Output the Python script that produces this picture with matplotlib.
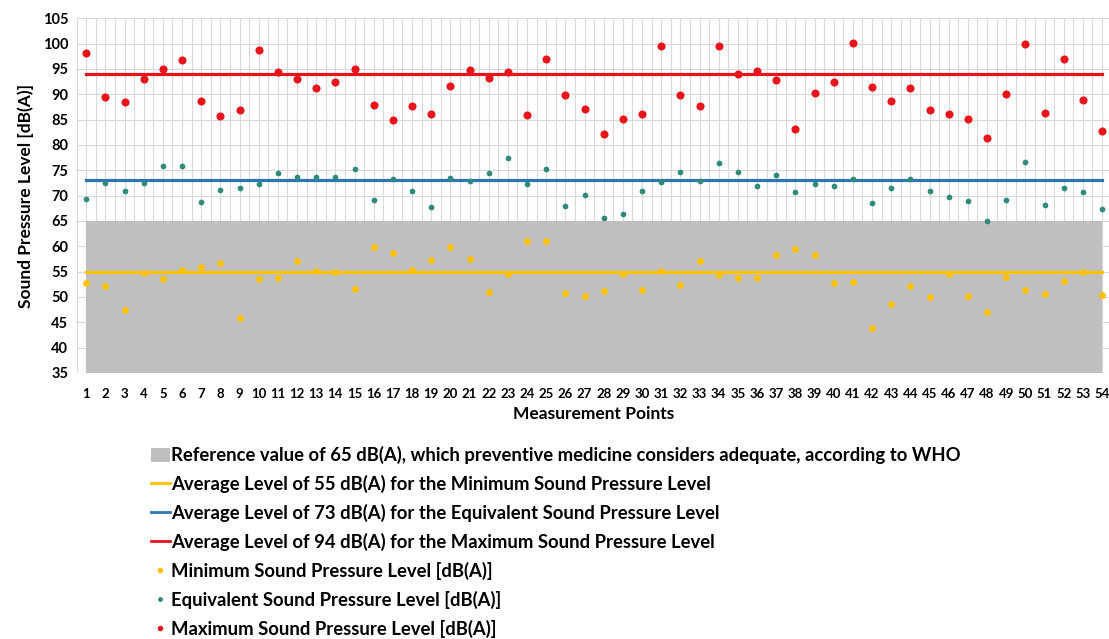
import matplotlib
matplotlib.use("Agg")
import matplotlib.pyplot as plt
from matplotlib.lines import Line2D
from matplotlib.patches import Patch
import numpy as np

points = list(range(1, 55))
max_spl = [98.1, 89.4, 88.4, 93.1, 94.9, 96.8, 88.6, 85.7, 86.9, 98.7,
           94.5, 93.0, 91.3, 92.4, 94.9, 87.8, 85.0, 87.6, 86.2, 91.7,
           94.7, 93.3, 94.5, 85.9, 97.0, 89.8, 87.1, 82.2, 85.1, 86.1,
           99.5, 89.9, 87.6, 99.5, 94.0, 94.6, 92.8, 83.2, 90.3, 92.4,
           100.2, 91.5, 88.7, 91.3, 86.9, 86.1, 85.1, 81.4, 90.1, 100.0,
           86.4, 97.0, 88.9, 82.8]
eq_spl = [69.4, 72.4, 71.0, 72.4, 75.8, 75.8, 68.7, 71.2, 71.6, 72.3,
          74.4, 73.6, 73.7, 73.7, 75.3, 69.1, 73.2, 70.9, 67.8, 73.4,
          72.8, 74.5, 77.4, 72.3, 75.3, 68.0, 70.1, 65.5, 66.3, 71.0,
          72.6, 74.7, 72.8, 76.5, 74.7, 72.0, 74.0, 70.7, 72.3, 72.0,
          73.2, 68.6, 71.6, 73.2, 70.9, 69.8, 68.9, 64.9, 69.1, 76.6,
          68.2, 71.6, 70.7, 67.3]
min_spl = [52.8, 52.1, 47.5, 54.8, 53.5, 55.3, 55.9, 56.8, 45.8, 53.5,
           53.7, 57.2, 55.2, 55.0, 51.6, 59.9, 58.7, 55.3, 57.3, 59.8,
           57.5, 50.9, 54.5, 61.1, 61.1, 50.7, 50.2, 51.1, 54.5, 51.4,
           55.2, 52.3, 57.1, 54.4, 53.7, 53.7, 58.2, 59.4, 58.2, 52.8,
           52.9, 43.8, 48.6, 52.2, 49.9, 54.5, 50.2, 47.0, 54.0, 51.3,
           50.6, 53.2, 54.9, 50.3]
ref_level = 65
avg_min, avg_eq, avg_max = 55, 73, 94
y_ticks = list(range(35, 106, 5))

labels = [
    "Reference value of 65 dB(A), which preventive medicine considers adequate, according to WHO",
    "Average Level of 55 dB(A) for the Minimum Sound Pressure Level",
    "Average Level of 73 dB(A) for the Equivalent Sound Pressure Level",
    "Average Level of 94 dB(A) for the Maximum Sound Pressure Level",
    "Minimum Sound Pressure Level [dB(A)]",
    "Equivalent Sound Pressure Level [dB(A)]",
    "Maximum Sound Pressure Level [dB(A)]",
]

C_GRAY = "#BFBFBF"
C_YEL = "#FFC000"
C_BLUE = "#2E75B6"
C_RED = "#E8141B"
C_TEAL = "#2F8A7C"

plt.rcParams['font.family'] = ['Lato', 'DejaVu Sans']
plt.rcParams['font.weight'] = 'bold'

fig = plt.figure(figsize=(11.09, 6.39), dpi=100)
ax = fig.add_axes([76.6/1109, 1-373/639, (1111.6-76.6)/1109, (373-18.3)/639])

x = np.array(points)
ax.fill_between([x[0], x[-1]], 35, ref_level, color=C_GRAY, lw=0, zorder=2)
ax.plot([x[0], x[-1]], [avg_min]*2, color=C_YEL, lw=2.3, zorder=3)
ax.plot([x[0], x[-1]], [avg_eq]*2, color=C_BLUE, lw=2.3, zorder=3)
ax.plot([x[0], x[-1]], [avg_max]*2, color=C_RED, lw=2.3, zorder=3)
ax.scatter(x, min_spl, s=24, color=C_YEL, lw=0, zorder=4)
ax.scatter(x, eq_spl, s=17, color=C_TEAL, lw=0, zorder=4)
ax.scatter(x, max_spl, s=34, color=C_RED, lw=0, zorder=4)

ax.set_xlim(0.5, 54.5)
ax.set_ylim(35, 105)
ax.set_yticks(y_ticks)
ax.set_xticks(points)
ax.set_xticks(np.arange(0.5, 55, 1.0), minor=True)
ax.grid(True, which='both', axis='x', color='#D9D9D9', lw=0.8, zorder=0)
ax.grid(True, which='major', axis='y', color='#D9D9D9', lw=0.8, zorder=0)
ax.set_axisbelow(True)
for s in ax.spines.values():
    s.set_visible(False)
ax.tick_params(axis='both', which='both', length=0)
ax.tick_params(axis='y', labelsize=10.5, pad=6)
ax.tick_params(axis='x', labelsize=9.5, pad=11)
ax.set_ylabel("Sound Pressure Level [dB(A)]", fontsize=12.5, fontweight='bold', labelpad=6)
ax.set_xlabel("Measurement Points", fontsize=12.5, fontweight='bold', labelpad=4)

handles = [
    Patch(facecolor=C_GRAY, edgecolor='none'),
    Line2D([], [], color=C_YEL, lw=2),
    Line2D([], [], color=C_BLUE, lw=2),
    Line2D([], [], color=C_RED, lw=2),
    Line2D([], [], color=C_YEL, marker='o', ls='none', markersize=4, markeredgewidth=0),
    Line2D([], [], color=C_TEAL, marker='o', ls='none', markersize=3.5, markeredgewidth=0),
    Line2D([], [], color=C_RED, marker='o', ls='none', markersize=4, markeredgewidth=0),
]
fig.legend(handles, labels, loc='upper left', bbox_to_anchor=(142/1109, 1-437/639),
           frameon=False, fontsize=13.3, labelspacing=0.585, handlelength=1.0,
           handletextpad=0.05, borderpad=0, handleheight=0.8)

fig.savefig("out.png", dpi=100)
